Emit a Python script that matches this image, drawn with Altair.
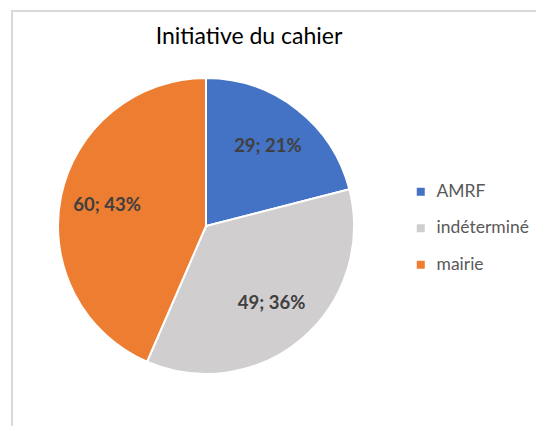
import altair as alt
import pandas as pd

categories = ["AMRF", "indéterminé", "mairie"]
values = [29, 49, 60]
colors = ["#4472C4", "#D0CECE", "#ED7D31"]
title_text = "Initiative du cahier"

df = pd.DataFrame({"cat": categories, "value": values, "order": list(range(len(categories)))})

CX, CY, R = 198, 218, 148
FONT = "Lato"

base = alt.Chart(df).transform_joinaggregate(total="sum(value)").transform_calculate(
    label="datum.value + '; ' + format(datum.value / datum.total, '.0%')"
).encode(
    theta=alt.Theta("value:Q", stack=True),
    order=alt.Order("order:Q"),
)

pie = base.mark_arc(outerRadius=R, stroke="white", strokeWidth=2).encode(
    x=alt.value(CX), y=alt.value(CY),
    color=alt.Color(
        "cat:N",
        scale=alt.Scale(domain=categories, range=colors),
        legend=alt.Legend(
            title=None, orient="none", legendX=404, legendY=175,
            symbolType="square", symbolSize=64, symbolStrokeWidth=0,
            labelFont=FONT, labelFontSize=17.5, labelColor="#595959",
            labelOffset=7, rowPadding=17.5, padding=0,
        ),
    ),
)

labels = base.mark_text(radius=101, font=FONT, fontSize=18.5, fontWeight="bold", color="#404040").encode(
    x=alt.value(CX), y=alt.value(CY), text="label:N"
)

frame = alt.Chart(pd.DataFrame({"a": [0]})).mark_rect(
    fill="white", fillOpacity=0, stroke="#D9D9D9", strokeWidth=2
).encode(x=alt.value(4), y=alt.value(3), x2=alt.value(700), y2=alt.value(700))

title = alt.Chart(pd.DataFrame({"t": [title_text]})).mark_text(
    font=FONT, fontSize=23, color="#000000", baseline="middle", align="center"
).encode(x=alt.value(241), y=alt.value(29), text="t:N")

chart = alt.layer(frame, pie, labels, title).properties(
    width=528, height=418, autosize=alt.AutoSizeParams(type="none"), padding=0
).configure_view(stroke=None)

chart.save("out.html", embed_options={"renderer": "svg", "actions": False})
